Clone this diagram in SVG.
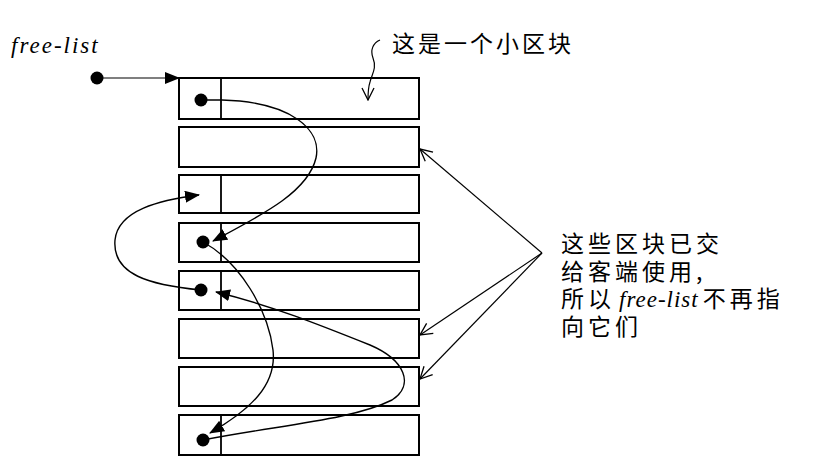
<svg xmlns="http://www.w3.org/2000/svg" width="819" height="476" viewBox="0 0 819 476">
<style>
.blk{fill:#fff;stroke:#000;stroke-width:2}
.div{stroke:#000;stroke-width:1.8}
.dot{fill:#000}
.cur{fill:none;stroke:#000;stroke-width:1.4}
.thin{fill:none;stroke:#000;stroke-width:1.2}
.cjk{font-family:"Noto Sans CJK SC","Liberation Sans",sans-serif;font-size:23px;fill:#000}
.it{font-family:"Liberation Serif",serif;font-style:italic;font-size:23px;fill:#000}
</style>
<defs>
<marker id="fa" markerWidth="15" markerHeight="12" refX="14" refY="6" orient="auto" markerUnits="userSpaceOnUse">
<path d="M0,0 L15,6 L0,12 Z" fill="#000"/>
</marker>
<marker id="oa" markerWidth="14" markerHeight="14" refX="13" refY="7" orient="auto" markerUnits="userSpaceOnUse">
<path d="M1,1 L13,7 L1,13" fill="none" stroke="#000" stroke-width="1.3"/>
</marker>
</defs>
<g id="label-free-list"><text class="it" x="11" y="53" letter-spacing="2">free-list</text></g>
<g id="block1"><rect class="blk" x="179" y="78" width="240" height="41"/><line class="div" x1="221" y1="78" x2="221" y2="119"/><circle class="dot" cx="201" cy="100" r="6.5"/></g>
<g id="block2"><rect class="blk" x="179" y="127" width="240" height="40"/></g>
<g id="block3"><rect class="blk" x="179" y="175" width="240" height="38"/><line class="div" x1="221" y1="175" x2="221" y2="213"/></g>
<g id="block4"><rect class="blk" x="179" y="223" width="240" height="39"/><line class="div" x1="221" y1="223" x2="221" y2="262"/><circle class="dot" cx="203" cy="242" r="6.5"/></g>
<g id="block5"><rect class="blk" x="179" y="271" width="240" height="39"/><line class="div" x1="221" y1="271" x2="221" y2="310"/><circle class="dot" cx="201" cy="290" r="6.5"/></g>
<g id="block6"><rect class="blk" x="179" y="319" width="240" height="39"/></g>
<g id="block7"><rect class="blk" x="179" y="367" width="240" height="39"/></g>
<g id="block8"><rect class="blk" x="179" y="415" width="240" height="40"/><line class="div" x1="221" y1="415" x2="221" y2="455"/><circle class="dot" cx="203" cy="440" r="6.5"/></g>
<g id="label-small"><text class="cjk" x="392" y="52" font-size="24" letter-spacing="3">这是一个小区块</text></g>
<g id="label-used"><text class="cjk" x="561" y="252" letter-spacing="4">这些区块已交</text><text class="cjk" x="561" y="280" letter-spacing="4">给客端使用,</text><text class="cjk" x="561" y="307" letter-spacing="4">所以<tspan class="it" font-size="22" letter-spacing="1" dx="4">free-list</tspan><tspan dx="4">不再指</tspan></text><text class="cjk" x="561" y="335" letter-spacing="4">向它们</text></g>
<g id="connectors">
<circle class="dot" cx="97" cy="78" r="6.5"/>
<line class="thin" x1="97" y1="78" x2="179" y2="78" marker-end="url(#fa)"/>
<path class="cur" d="M201,100 L222,100 C292,102 322,130 316,158 C308,192 262,215 213,241" marker-end="url(#fa)"/>
<path class="cur" d="M203,242 C240,262 268,310 273,350 C277,385 250,410 210,433" marker-end="url(#fa)"/>
<path class="cur" d="M203,440 C280,425 352,420 392,400 C415,385 405,360 370,345 C320,325 270,305 216,292" marker-end="url(#fa)"/>
<path class="cur" d="M201,290 C150,285 112,275 115,240 C118,210 160,200 199,195" marker-end="url(#fa)"/>
<path class="thin" d="M380,40 C373,43 370,50 373,58 C377,68 372,74 370,82 C368,88 368,94 368,100" marker-end="url(#oa)"/>
<line class="thin" x1="542" y1="253" x2="420" y2="149" marker-end="url(#oa)"/>
<line class="thin" x1="542" y1="253" x2="420" y2="335" marker-end="url(#oa)"/>
<line class="thin" x1="542" y1="253" x2="420" y2="379" marker-end="url(#oa)"/>
</g>
</svg>
